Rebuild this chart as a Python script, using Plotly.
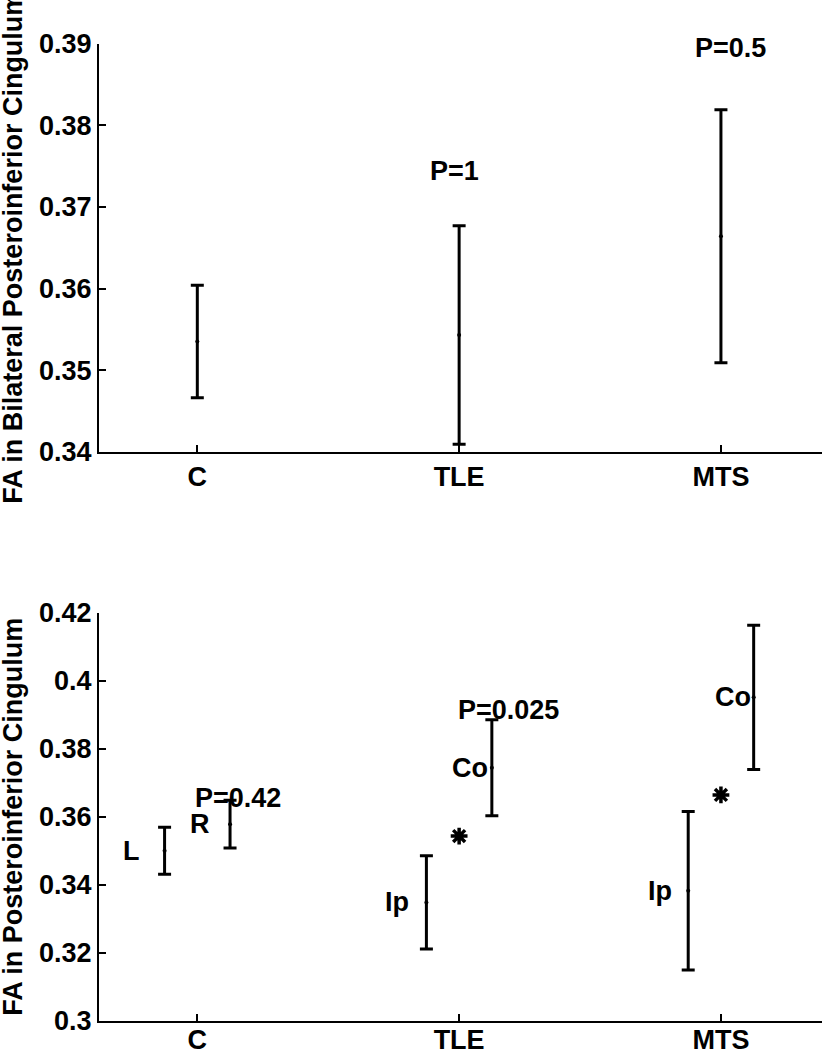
import plotly.graph_objects as go

# ---- data ----
groups = ["C", "TLE", "MTS"]
group_pos = [1, 2, 3]

# top panel: bilateral posteroinferior cingulum FA
bilat_mean = [0.3535, 0.3543, 0.3664]
bilat_err = [0.0069, 0.0134, 0.0155]
top_p_text = ["", "P=1", "P=0.5"]

# bottom panel: sides (L / Ip on the left, R / Co on the right)
left_labels = ["L", "Ip", "Ip"]
left_mean = [0.3500, 0.3348, 0.3382]
left_err = [0.0069, 0.0137, 0.0233]
right_labels = ["R", "Co", "Co"]
right_mean = [0.3578, 0.3744, 0.3951]
right_err = [0.0070, 0.0141, 0.0212]
bottom_p_text = ["P=0.42", "P=0.025", "P=0.045"]
star_groups = [2, 3]  # groups marked with an asterisk (at bilateral mean)

top_ticks = [0.34, 0.35, 0.36, 0.37, 0.38, 0.39]
top_ticktext = ["0.34", "0.35", "0.36", "0.37", "0.38", "0.39"]
bot_ticks = [0.30, 0.32, 0.34, 0.36, 0.38, 0.40, 0.42]
bot_ticktext = ["0.3", "0.32", "0.34", "0.36", "0.38", "0.4", "0.42"]

# ---- style ----
FONT = "Arial, 'Liberation Sans', sans-serif"
FS = 27
side_off = 0.125

fig = go.Figure()

def ebar(x, y, err, xa, ya):
    return go.Scatter(
        x=x, y=y, mode="markers", xaxis=xa, yaxis=ya,
        marker=dict(color="black", size=4),
        error_y=dict(type="data", array=err, visible=True, color="black",
                     thickness=3, width=6.5),
        showlegend=False, hoverinfo="skip")

fig.add_trace(ebar(group_pos, bilat_mean, bilat_err, "x", "y"))
fig.add_trace(ebar([g - side_off for g in group_pos], left_mean, left_err, "x2", "y2"))
fig.add_trace(ebar([g + side_off for g in group_pos], right_mean, right_err, "x2", "y2"))
fig.add_trace(go.Scatter(
    x=star_groups, y=[bilat_mean[g - 1] for g in star_groups], mode="markers",
    xaxis="x2", yaxis="y2",
    marker=dict(symbol="asterisk-open", size=14, color="black",
                line=dict(color="black", width=3.5)),
    showlegend=False, hoverinfo="skip"))

annots = []
# top panel P labels
top_p_dx = [0, -0.016, 0.036]
top_p_dy = [0, 0.0067, 0.0076]
for i, t in enumerate(top_p_text):
    if t:
        annots.append(dict(x=group_pos[i] + top_p_dx[i],
                           y=bilat_mean[i] + bilat_err[i] + top_p_dy[i],
                           xref="x", yref="y", text=t, showarrow=False,
                           xanchor="center", yanchor="middle"))
# bottom panel side labels
left_dx = [-0.25, -0.239, -0.231]
right_dx = [0.01, 0.041, 0.046]
for i in range(3):
    annots.append(dict(x=group_pos[i] + left_dx[i], y=left_mean[i],
                       xref="x2", yref="y2", text=left_labels[i], showarrow=False,
                       xanchor="center", yanchor="middle"))
    annots.append(dict(x=group_pos[i] + right_dx[i], y=right_mean[i],
                       xref="x2", yref="y2", text=right_labels[i], showarrow=False,
                       xanchor="center", yanchor="middle"))
# bottom panel P labels
bot_p_dx = [0.157, 0.187, 0.188]
bot_p_dy = [0.0008, 0.0030, 0.0041]
for i, t in enumerate(bottom_p_text):
    annots.append(dict(x=group_pos[i] + bot_p_dx[i],
                       y=right_mean[i] + right_err[i] + bot_p_dy[i],
                       xref="x2", yref="y2", text=t, showarrow=False,
                       xanchor="center", yanchor="middle"))
# y-axis titles
annots.append(dict(x=13 / 822, y=(0.5698 + 0.9584) / 2, xref="paper", yref="paper",
                   text="FA in Bilateral Posteroinferior Cingulum", textangle=-90,
                   showarrow=False, xanchor="center", yanchor="middle"))
annots.append(dict(x=13 / 822, y=(0.0279 + 0.4165) / 2, xref="paper", yref="paper",
                   text="FA in Posteroinferior Cingulum", textangle=-90,
                   showarrow=False, xanchor="center", yanchor="middle"))
for a in annots:
    a["font"] = dict(family=FONT, size=FS, color="black", weight="bold")

axis_common = dict(showgrid=False, zeroline=False, showline=True, linecolor="black",
                   linewidth=2, ticks="inside", ticklen=7, tickwidth=1.5,
                   tickcolor="black",
                   tickfont=dict(family=FONT, size=FS, color="black", weight="bold"),
                   automargin=False)

x_dom = [99 / 822, 1.0]
fig.update_layout(
    width=822, height=1050,
    margin=dict(l=0, r=0, t=0, b=0),
    paper_bgcolor="white", plot_bgcolor="white",
    xaxis=dict(domain=x_dom, range=[0.6245, 3.386], tickvals=group_pos, ticktext=groups,
               anchor="y", **axis_common),
    yaxis=dict(domain=[0.5698, 0.9584], range=[0.34, 0.39], tickvals=top_ticks,
               ticktext=top_ticktext, anchor="x", **axis_common),
    xaxis2=dict(domain=x_dom, range=[0.6245, 3.386], tickvals=group_pos, ticktext=groups,
                anchor="y2", ticklabelstandoff=-6, **axis_common),
    yaxis2=dict(domain=[0.0279, 0.4165], range=[0.30, 0.42], tickvals=bot_ticks,
                ticktext=bot_ticktext, anchor="x2", **axis_common),
    annotations=annots,
)

fig.write_html("out.html", config={"displayModeBar": False},
               post_script="document.body.style.margin='0';document.body.style.overflow='hidden';")
